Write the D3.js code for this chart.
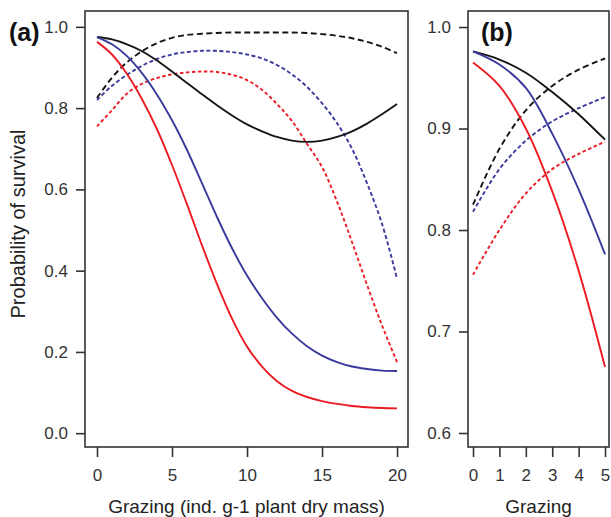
<!DOCTYPE html>
<html><head><meta charset="utf-8">
<script src="https://cdn.jsdelivr.net/npm/d3@7"></script>
<style>body{margin:0;background:#fff}svg{display:block;font-family:"Liberation Sans",Arial,sans-serif}</style>
</head><body><svg id="c" width="611" height="517"></svg>
<script>
// ---- data (panel a) ----
const grazingA = [0,1,2,3,4,5,6,7,8,9,10,11,12,13,14,15,16,17,18,19,20];
const aBlackSolid = [0.975,0.969,0.957,0.94,0.917,0.89,0.862,0.834,0.807,0.782,0.76,0.743,0.729,0.72,0.717,0.72,0.729,0.743,0.762,0.785,0.81];
const aBlueSolid  = [0.975,0.957,0.928,0.886,0.833,0.77,0.697,0.615,0.532,0.455,0.388,0.332,0.284,0.245,0.214,0.191,0.175,0.164,0.158,0.154,0.153];
const aRedSolid   = [0.963,0.932,0.884,0.822,0.748,0.66,0.563,0.462,0.367,0.282,0.213,0.164,0.128,0.104,0.089,0.079,0.072,0.067,0.064,0.062,0.061];
const aBlackDash  = [0.825,0.875,0.913,0.94,0.96,0.973,0.98,0.983,0.985,0.986,0.986,0.986,0.986,0.986,0.985,0.982,0.978,0.972,0.963,0.951,0.935];
const aBlueDash   = [0.82,0.855,0.882,0.904,0.921,0.932,0.938,0.941,0.941,0.938,0.932,0.922,0.906,0.883,0.852,0.812,0.763,0.7,0.615,0.515,0.38];
const aRedDash    = [0.755,0.795,0.836,0.86,0.874,0.883,0.888,0.89,0.889,0.882,0.869,0.845,0.81,0.768,0.712,0.655,0.57,0.47,0.365,0.265,0.175];
// ---- data (panel b) ----
const grazingB = [0,1,2,3,4,5];
const bBlackSolid = [0.976,0.968,0.955,0.936,0.914,0.889];
const bBlueSolid  = [0.976,0.963,0.94,0.895,0.84,0.776];
const bRedSolid   = [0.965,0.942,0.9,0.838,0.76,0.665];
const bBlackDash  = [0.825,0.88,0.918,0.942,0.958,0.969];
const bBlueDash   = [0.818,0.86,0.888,0.907,0.92,0.931];
const bRedDash    = [0.756,0.8,0.836,0.86,0.875,0.887];
// ---- ticks / labels ----
const ticksAX = [0,5,10,15,20];
const ticksAY = [0.0,0.2,0.4,0.6,0.8,1.0];
const ticksBX = [0,1,2,3,4,5];
const ticksBY = [0.6,0.7,0.8,0.9,1.0];
const titleY = "Probability of survival";
const titleAX = "Grazing (ind. g-1 plant dry mass)";
const titleBX = "Grazing";

const RED="#ec1c24", BLUE="#3a3a9c", BLACK="#151515";
const styles = {
  blackSolid:{c:BLACK,d:null}, blueSolid:{c:BLUE,d:null}, redSolid:{c:RED,d:null},
  blackDash:{c:BLACK,d:"6,3.5"}, blueDash:{c:BLUE,d:"4,2.5"}, redDash:{c:RED,d:"3.5,2.5"}
};

const svg = d3.select("#c");

function panel(opt){
  const {x0,x1,y0,y1,xd,yd,xt,yt,xs,series,label,labelX,xtitle,xfmt,yfmt} = opt;
  const x = d3.scaleLinear().domain(xd).range([x0,x1]);
  const y = d3.scaleLinear().domain(yd).range([y1,y0]);
  const g = svg.append("g");
  const line = d3.line().x((d,i)=>x(xs[i])).y(d=>y(d)).curve(d3.curveCatmullRom.alpha(0.5));
  series.forEach(s=>{
    const st = styles[s.k];
    g.append("path").attr("d", line(s.v)).attr("fill","none")
     .attr("stroke",st.c).attr("stroke-width",1.9)
     .attr("stroke-dasharray",st.d);
  });
  g.append("rect").attr("x",x0).attr("y",y0).attr("width",x1-x0).attr("height",y1-y0)
   .attr("fill","none").attr("stroke","#333").attr("stroke-width",1.6);
  const ax = d3.axisBottom(x).tickValues(xt).tickSize(10).tickSizeOuter(0).tickPadding(12).tickFormat(xfmt);
  const gx = g.append("g").attr("transform",`translate(0,${y1})`).call(ax);
  gx.select(".domain").remove();
  gx.selectAll(".tick line").attr("stroke","#333").attr("stroke-width",1.6);
  gx.selectAll(".tick text").attr("font-size",17).attr("fill","#333")
    .attr("font-family",'"Liberation Sans",Arial,sans-serif');
  const ay = d3.axisLeft(y).tickValues(yt).tickSize(9).tickSizeOuter(0).tickPadding(8).tickFormat(yfmt);
  const gy = g.append("g").attr("transform",`translate(${x0},0)`).call(ay);
  gy.select(".domain").remove();
  gy.selectAll(".tick line").attr("stroke","#333").attr("stroke-width",1.6);
  gy.selectAll(".tick text").attr("font-size",17).attr("fill","#333")
    .attr("font-family",'"Liberation Sans",Arial,sans-serif');
  g.append("text").attr("x",(x0+x1)/2).attr("y",513).attr("text-anchor","middle")
   .attr("font-size",19).attr("fill","#222").text(xtitle);
  g.append("text").attr("x",labelX).attr("y",41).attr("font-size",25).attr("font-weight","bold")
   .attr("fill","#111").text(label);
}

panel({x0:85,x1:408,y0:11,y1:447,xd:[-0.8,20.73],yd:[-0.034,1.039],xt:ticksAX,yt:ticksAY,xs:grazingA,
  xfmt:d3.format("d"), yfmt:d3.format(".1f"), label:"(a)", labelX:9, xtitle:titleAX,
  series:[{k:"blackDash",v:aBlackDash},{k:"blueDash",v:aBlueDash},{k:"redDash",v:aRedDash},
          {k:"blackSolid",v:aBlackSolid},{k:"blueSolid",v:aBlueSolid},{k:"redSolid",v:aRedSolid}]});

panel({x0:468,x1:609,y0:11,y1:447,xd:[-0.19,5.15],yd:[0.5862,1.0158],xt:ticksBX,yt:ticksBY,xs:grazingB,
  xfmt:d3.format("d"), yfmt:d3.format(".1f"), label:"(b)", labelX:481, xtitle:titleBX,
  series:[{k:"blackDash",v:bBlackDash},{k:"blueDash",v:bBlueDash},{k:"redDash",v:bRedDash},
          {k:"blackSolid",v:bBlackSolid},{k:"blueSolid",v:bBlueSolid},{k:"redSolid",v:bRedSolid}]});

svg.append("text").attr("transform","translate(25,224) rotate(-90)").attr("text-anchor","middle")
  .attr("font-size",20).attr("fill","#222").text(titleY);
</script></body></html>
